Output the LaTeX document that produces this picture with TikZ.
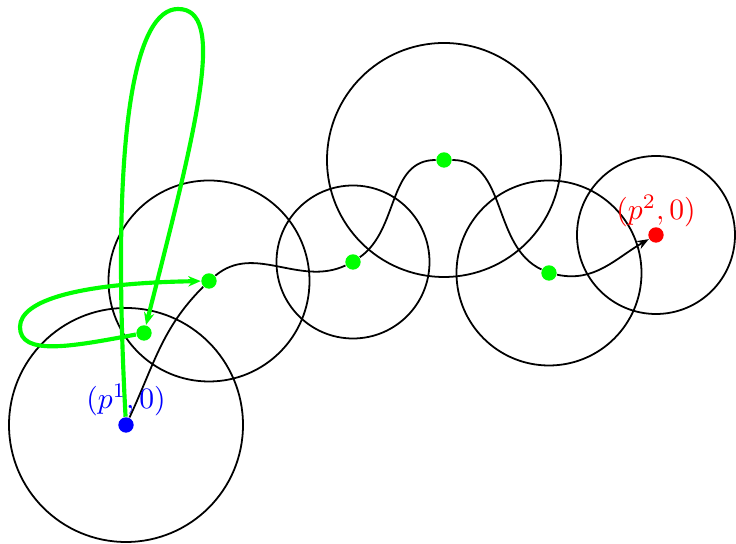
\documentclass[tikz,border=0pt]{standalone}
\usetikzlibrary{arrows.meta}
\pgfdeclarelayer{background}
\pgfsetlayers{background,main}
\begin{document}
\begin{tikzpicture}[x=0.338pt,y=0.338pt,
  ring/.style={semithick},
  dot/.style={circle,inner sep=0pt,minimum size=5.2pt},
  blackpath/.style={semithick,-{Stealth[length=4pt,width=3pt]}},
  greenpath/.style={green,line width=1.4pt,-{Stealth[length=4.2pt,width=3.5pt]}}]
\useasboundingbox (0,0) rectangle (736,-544);
% dots
\node[dot,fill=blue] (p1) at (126,-425) {};
\node[dot,fill=green] (q1) at (144,-333) {};
\node[dot,fill=green] (g1) at (209,-281) {};
\node[dot,fill=green] (g2) at (353,-262) {};
\node[dot,fill=green] (g3) at (444,-160) {};
\node[dot,fill=green] (g4) at (549,-273) {};
\node[dot,fill=red] (p2) at (656,-235) {};
% labels
\node[blue] (l1) at (126,-400) {$(p^1,0)$};
\node[red] (l2) at (656,-211) {$(p^2,0)$};
\begin{pgfonlayer}{background}
% circles
\draw[ring] (126,-425) circle[radius=117];
\draw[ring] (209,-281) circle[radius=100.5];
\draw[ring] (353,-262) circle[radius=76.5];
\draw[ring] (444,-160) circle[radius=117];
\draw[ring] (549,-273) circle[radius=92.5];
\draw[ring] (656,-235) circle[radius=79];
% black path
\draw[blackpath] (p1) to[out=65,in=225] (g1) to[out=40,in=205] (g2)
  to[out=35,in=180] (g3) to[out=0,in=155] (g4) to[out=-12,in=210] (p2);
% green paths
\draw[greenpath] (p1) .. controls (110,-125) and (136,-9) .. (178,-9)
  .. controls (226,-9) and (199,-118) .. (q1);
\draw[greenpath] (q1) .. controls (70,-347) and (20,-356) .. (20,-327)
  .. controls (20,-300) and (80,-283) .. (g1);
\end{pgfonlayer}
\end{tikzpicture}
\end{document}
